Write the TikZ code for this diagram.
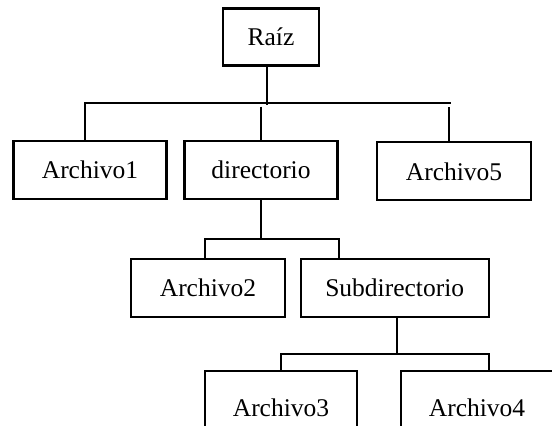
\documentclass[tikz,border=0pt]{standalone}
\usepackage{fontspec}
\setmainfont{Liberation Serif}
\begin{document}
\begin{tikzpicture}[x=1pt,y=-1pt,
  box/.style={draw, line width=2.1pt, minimum height=58pt, inner sep=0pt,
    font=\fontsize{25.5}{30}\selectfont},
  link/.style={line width=2.1pt}]
\useasboundingbox (0,0) rectangle (552,426);
\clip (0,0) rectangle (552,426);

% boxes
\node[box, minimum width=96pt, minimum height=57pt] (raiz) at (271,37) {Raíz};
\node[box, minimum width=153pt] (a1)  at (90,170)    {Archivo1};
\node[box, minimum width=153pt] (dir) at (261,170)   {directorio};
\node[box, minimum width=154pt] (a5)  at (454,171.4) {Archivo5};
\node[box, minimum width=154pt] (a2)  at (208,288)   {Archivo2};
\node[box, minimum width=188pt] (sub) at (394.7,288) {Subdirectorio};
\node[box, minimum width=152pt, minimum height=74pt] (a3) at (281,408) {Archivo3};
\node[box, minimum width=152pt, minimum height=74pt] (a4) at (477,408) {Archivo4};

% first level: root to its three children
\coordinate (r0)  at (267,105);
\coordinate (b1l) at (85,103.3);
\coordinate (b1r) at (451,103.3);
\coordinate (d1)  at (261,106.7);
\coordinate (d5)  at (449,107);
\draw[link] (raiz.south -| r0) -- (r0);
\draw[link] (a1.north -| b1l) -- (b1l) -- (b1r);
\draw[link] (d1) -- (d1 |- dir.north);
\draw[link] (d5) -- (d5 |- a5.north);

% second level: directorio
\coordinate (b2l) at (205,238.7);
\coordinate (b2r) at (338.7,238.7);
\draw[link] (dir.south) -- (dir.south |- b2l);
\draw[link] (a2.north -| b2l) -- (b2l) -- (b2r) -- (sub.north -| b2r);

% third level: Subdirectorio
\coordinate (s0)  at (396.7,354.3);
\coordinate (b3l) at (281,354.3);
\coordinate (b3r) at (489,354.3);
\draw[link] (sub.south -| s0) -- (s0);
\draw[link] (a3.north -| b3l) -- (b3l) -- (b3r) -- (a4.north -| b3r);
\end{tikzpicture}
\end{document}
